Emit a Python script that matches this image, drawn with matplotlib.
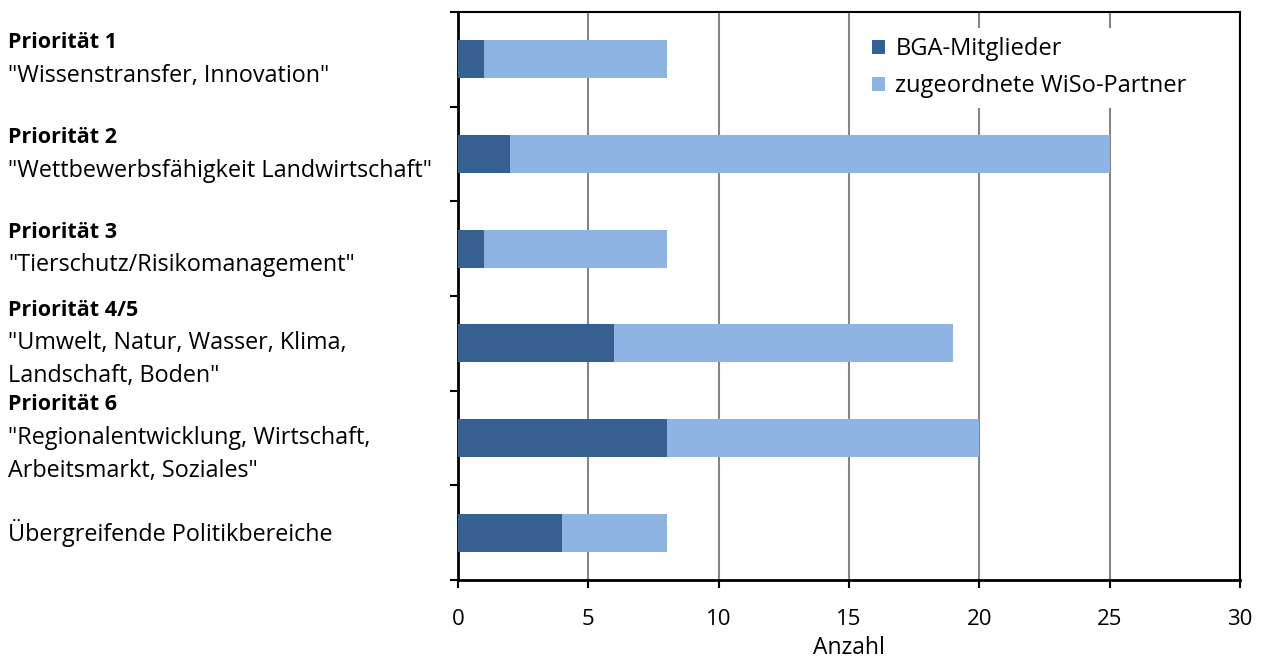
import matplotlib.pyplot as plt
import numpy as np

plt.rcParams['font.family'] = ['Open Sans', 'DejaVu Sans']

# Kategorien von oben nach unten
titel = ["Priorität 1", "Priorität 2", "Priorität 3", "Priorität 4/5", "Priorität 6", ""]
untertitel = [
    ['"Wissenstransfer, Innovation"'],
    ['"Wettbewerbsfähigkeit Landwirtschaft"'],
    ['"Tierschutz/Risikomanagement"'],
    ['"Umwelt, Natur, Wasser, Klima,', 'Landschaft, Boden"'],
    ['"Regionalentwicklung, Wirtschaft,', 'Arbeitsmarkt, Soziales"'],
    ["Übergreifende Politikbereiche"],
]
bga = [1, 2, 1, 6, 8, 4]
wiso = [7, 23, 7, 13, 12, 4]

dunkel = "#376092"
hell = "#8EB4E3"

fig = plt.figure(figsize=(12.64, 6.59), dpi=100)
ax = fig.add_axes([458 / 1264, 1 - 580 / 659, (1240 - 458) / 1264, (580 - 12) / 659])

y = np.arange(len(bga))
ax.barh(y, bga, height=0.4, color=dunkel, label="BGA-Mitglieder", zorder=3)
ax.barh(y, wiso, left=bga, height=0.4, color=hell, label="zugeordnete WiSo-Partner", zorder=3)

ax.set_ylim(len(bga) - 0.5, -0.5)
ax.set_xlim(0, 30)
ax.set_xticks(np.arange(0, 31, 5))
ax.set_yticks(np.arange(-0.5, len(bga), 1))
ax.set_yticklabels([])
ax.grid(axis="x", color="#868686", linewidth=1.5, zorder=0)
ax.tick_params(axis="both", direction="out", length=6, width=1.5, labelsize=16)
ax.tick_params(axis="x", pad=15)
for s in ax.spines.values():
    s.set_linewidth(1.5)
ax.spines["left"].set_linewidth(2)
ax.spines["bottom"].set_linewidth(2)
ax.set_xlabel("Anzahl", fontsize=16.5, labelpad=4)

# Beschriftungen links, Blöcke mittig zur Kategorie
zeilenabstand = 23.8
for i in range(len(bga)):
    zeilen = ([(titel[i], "bold", 15.5)] if titel[i] else []) + [(t, "normal", 16.8) for t in untertitel[i]]
    n = len(zeilen)
    for k, (txt, gewicht, gr) in enumerate(zeilen):
        off = ((n - 1) / 2 - k) * zeilenabstand
        ax.annotate(txt, xy=(8 / 1264, i), xycoords=("figure fraction", "data"),
                    xytext=(0, off), textcoords="offset points",
                    ha="left", va="center", fontsize=gr, fontweight=gewicht)

leg = ax.legend(loc="upper left", bbox_to_anchor=(863 / 1264, 1 - 28 / 659),
                bbox_transform=fig.transFigure, frameon=True, fontsize=17,
                handlelength=0.55, handleheight=0.55, handletextpad=0.42, labelspacing=0.55,
                borderaxespad=0, borderpad=0.4)
leg.get_frame().set_edgecolor("none")
leg.get_frame().set_facecolor("white")
leg.get_frame().set_alpha(1)
leg.set_zorder(4)

fig.savefig("out.png", dpi=100)
